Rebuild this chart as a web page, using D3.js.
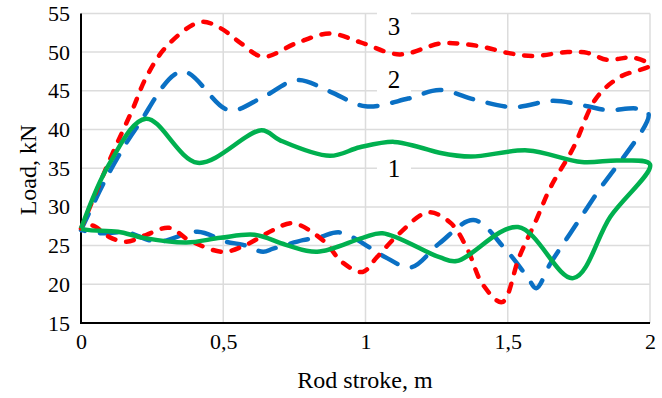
<!DOCTYPE html>
<html>
<head>
<meta charset="utf-8">
<script src="https://cdn.jsdelivr.net/npm/d3@7"></script>
<style>
	body { margin: 0; background: #fff; }
	svg { display: block; }
</style>
</head>
<body>
<svg></svg>
<script>
var width = 662;
var height = 398;
var serif = '"Liberation Serif", "Times New Roman", Times, serif';

// x ticks and their labels (comma decimals as in the source)
var xTicks = [0, 0.5, 1, 1.5, 2];
var xTickLabels = ['0', '0,5', '1', '1,5', '2'];
var yTicks = [15, 20, 25, 30, 35, 40, 45, 50, 55];

// curve 1 (green): [rod stroke, load] going out then back
var curve1 = [
	[0, 27.2], [0.10, 35.6], [0.228, 41.4], [0.41, 35.7], [0.635, 39.9], [0.70, 38.6],
	[0.875, 36.6], [0.98, 37.7], [1.10, 38.4], [1.19, 37.7], [1.26, 37.0], [1.37, 36.5],
	[1.57, 37.3], [1.76, 35.8], [1.89, 36.0], [2.0, 35.5],
	[1.86, 28.7], [1.73, 20.8], [1.536, 27.4], [1.32, 23.0], [1.26, 23.5], [1.06, 26.6],
	[0.99, 26.0], [0.83, 24.2], [0.72, 25.1], [0.61, 26.4], [0.49, 26.0], [0.37, 25.4],
	[0.22, 26.0], [0.13, 26.8], [0.03, 27.0], [0, 27.2]
];

// curve 2 (blue dashed)
var curve2 = [
	[0, 27.0], [0.10, 34.5], [0.20, 40.5], [0.355, 47.5], [0.52, 42.5], [0.64, 44.2],
	[0.76, 46.4], [0.875, 44.9], [1.0, 43.0], [1.15, 44.0], [1.26, 45.1], [1.39, 43.8],
	[1.52, 42.9], [1.66, 43.7], [1.78, 43.0], [1.85, 42.5], [1.955, 42.7], [1.995, 42.0],
	[1.81, 31.6], [1.72, 26.6], [1.65, 22.7], [1.60, 19.5], [1.57, 20.9], [1.49, 24.6],
	[1.38, 28.3], [1.26, 25.3], [1.16, 22.2], [1.07, 23.5], [1.03, 24.4], [0.91, 26.7],
	[0.84, 26.1], [0.78, 25.7], [0.675, 24.6], [0.64, 24.2], [0.57, 25.1], [0.51, 25.5],
	[0.41, 26.8], [0.27, 25.5], [0.16, 26.7], [0.07, 26.6], [0, 27.0]
];

// curve 3 (red dotted)
var curve3 = [
	[0, 27.2], [0.10, 36.0], [0.18, 42.5], [0.23, 46.8], [0.30, 50.7], [0.42, 53.9],
	[0.49, 53.1], [0.56, 51.2], [0.64, 49.4], [0.76, 51.2], [0.875, 52.4], [0.98, 51.3],
	[1.12, 49.7], [1.26, 51.1], [1.33, 51.1], [1.41, 50.7], [1.50, 49.9], [1.59, 49.5],
	[1.71, 50.0], [1.78, 49.9], [1.85, 49.0], [1.94, 49.3], [2.0, 48.3],
	[1.895, 46.8], [1.81, 44.0], [1.73, 37.6], [1.65, 32.5], [1.60, 28.3], [1.54, 23.5],
	[1.48, 17.7], [1.41, 20.1], [1.36, 24.4], [1.30, 27.9], [1.22, 29.3], [1.12, 26.6],
	[1.04, 23.5], [0.99, 21.6], [0.92, 22.8], [0.85, 25.7], [0.745, 27.9], [0.675, 27.0],
	[0.58, 25.1], [0.50, 24.2], [0.38, 25.7], [0.31, 27.3], [0.23, 26.4], [0.16, 25.5],
	[0.10, 26.1], [0.04, 27.6], [0, 27.2]
];

var curveLabels = [
	{ text: '3', x: 1.10, y: 53.3 },
	{ text: '2', x: 1.10, y: 46.5 },
	{ text: '1', x: 1.10, y: 35.0 }
];

var svg = d3.select('svg')
	.attr('width', width)
	.attr('height', height);

var x = d3.scaleLinear()
	.domain([0, 2])
	.range([81, 650]);

var y = d3.scaleLinear()
	.domain([15, 55])
	.range([323, 13.4]);

// gridlines
svg.append('g')
	.selectAll('line')
	.data(yTicks.slice(1))
	.join('line')
	.attr('x1', x(0))
	.attr('x2', x(2))
	.attr('y1', d => y(d))
	.attr('y2', d => y(d))
	.attr('stroke', '#dcdcdc')
	.attr('stroke-width', 1.5);

svg.append('g')
	.selectAll('line')
	.data(xTicks.slice(1))
	.join('line')
	.attr('x1', d => x(d))
	.attr('x2', d => x(d))
	.attr('y1', y(15))
	.attr('y2', y(55))
	.attr('stroke', '#dcdcdc')
	.attr('stroke-width', 1.5);

// axes
var yAxis = d3.axisLeft(y)
	.tickValues(yTicks)
	.tickSize(0)
	.tickPadding(11);

svg.append('g')
	.attr('transform', `translate(${x(0)},0)`)
	.attr('font-family', serif)
	.attr('font-size', 22)
	.call(yAxis)
	.call(g => g.attr('font-family', serif).attr('font-size', 22))
	.call(g => g.select('.domain').remove())
	.selectAll('text')
	.attr('fill', '#000');

var xAxis = d3.axisBottom(x)
	.tickValues(xTicks)
	.tickFormat((d, i) => xTickLabels[i])
	.tickSize(0)
	.tickPadding(10);

svg.append('g')
	.attr('transform', `translate(0,${y(15)})`)
	.call(xAxis)
	.call(g => g.attr('font-family', serif).attr('font-size', 22))
	.call(g => g.select('.domain').remove())
	.selectAll('text')
	.attr('fill', '#000');

svg.append('line')
	.attr('x1', x(0)).attr('x2', x(0))
	.attr('y1', y(55)).attr('y2', y(15) + 1)
	.attr('stroke', '#000')
	.attr('stroke-width', 2);

svg.append('line')
	.attr('x1', x(0) - 1).attr('x2', x(2))
	.attr('y1', y(15)).attr('y2', y(15))
	.attr('stroke', '#000')
	.attr('stroke-width', 2);

// curves
var line = d3.line()
	.x(d => x(d[0]))
	.y(d => y(d[1]))
	.curve(d3.curveCatmullRom.alpha(0.5));

function plot(data, color, dash) {
	svg.append('path')
		.attr('d', line(data))
		.attr('fill', 'none')
		.attr('stroke', color)
		.attr('stroke-width', 4.5)
		.attr('stroke-linecap', dash ? 'round' : 'butt')
		.attr('stroke-linejoin', 'round')
		.attr('stroke-dasharray', dash);
}

plot(curve2, '#0a70c4', '18,15');
plot(curve3, '#ff0000', '8,11');
plot(curve1, '#00b04f', null);

// curve numbers on white boxes
var lbl = svg.append('g')
	.selectAll('g')
	.data(curveLabels)
	.join('g')
	.attr('transform', d => `translate(${x(d.x)},${y(d.y)})`);

lbl.append('rect')
	.attr('x', -17)
	.attr('y', -15)
	.attr('width', 34)
	.attr('height', 28)
	.attr('fill', '#fff');

lbl.append('text')
	.attr('text-anchor', 'middle')
	.attr('dy', '0.35em')
	.attr('font-family', serif)
	.attr('font-size', 25)
	.text(d => d.text);

// axis titles
svg.append('text')
	.attr('x', 365)
	.attr('y', 388)
	.attr('text-anchor', 'middle')
	.attr('font-family', serif)
	.attr('font-size', 24)
	.text('Rod stroke, m');

svg.append('text')
	.attr('transform', 'translate(36,170) rotate(-90)')
	.attr('text-anchor', 'middle')
	.attr('font-family', serif)
	.attr('font-size', 24)
	.text('Load, kN');
</script>
</body>
</html>
